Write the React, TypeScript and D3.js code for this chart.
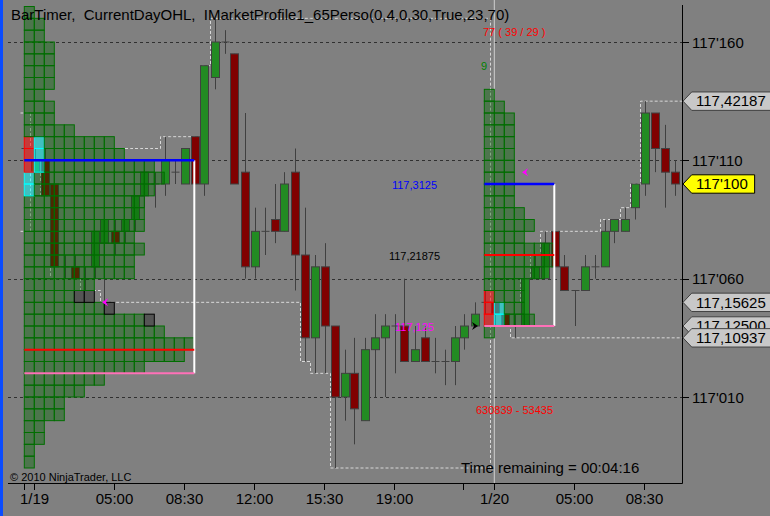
import React from 'react';
import * as d3 from 'd3';

// prices are counted in 1/64ths above 117.000 (117'160 = 32)
const priceTicks = [32, 22, 12, 2];
const priceTickLabels = ["117'160", "117'110", "117'060", "117'010"];

// bar slots (30 min each)
const timeTickSlots = [2, 3, 11, 18, 25, 32, 39, 46, 49, 57, 64];
const timeLabelSlots = [3, 11, 18, 25, 32, 39, 49, 57, 64];
const timeLabelText = ['1/19', '05:00', '08:30', '12:00', '15:30', '19:00', '1/20', '05:00', '08:30'];

// [open, high, low, close]
const prevDayBars: number[][] = [[23, 23, 23, 23]];
const day1Bars: number[][] = [
  [21, 23, 21, 22], [22, 23, 19, 19], [20, 20, 12, 13], [13, 14, 12, 13], [13, 14, 12, 12],
  [12, 13, 11, 12], [13, 16, 12, 16], [15, 17, 10, 17], [16, 17, 14, 15], [16, 17, 15, 17],
  [17, 19, 16, 19], [19, 21, 18, 21], [20, 21, 18, 20], [20, 24, 19, 22], [21, 22, 20, 21],
  [20, 23, 20, 23], [24, 24, 20, 20], [20, 30, 19, 30], [29, 34, 28, 32], [32, 33, 31, 32],
  [31, 31, 20, 20], [21, 26, 12, 13], [13, 18, 12, 16], [16, 18, 14, 16], [17, 20, 15, 16],
  [16, 21, 16, 20], [21, 23, 11, 14], [14, 18, 5, 7], [7, 14, 4, 13], [13, 15, 4, 8],
  [8, 8, -4, 2], [2, 6, 0, 4], [4, 7, -2, 1], [0, 7, 0, 6], [6, 9, 2, 7],
  [7, 9, 2, 8], [8, 9, 4, 8], [8, 12, 5, 5], [5, 8, 5, 6], [7, 8, 5, 5],
  [5, 7, 4, 5], [5, 6, 3, 5], [5, 8, 3, 7], [7, 9, 6, 8], [8, 10, 8, 9],
  [10, 11, 9, 10],
];
const day2Bars: number[][] = [
  [10, 10, 8, 9], [9, 9, 8, 8], [8, 9, 7, 8], [8, 12, 8, 12], [12, 14, 12, 13],
  [12, 16, 12, 15], [16, 16, 13, 13], [13, 14, 11, 11], [11, 11, 8, 11], [11, 14, 11, 13],
  [13, 14, 12, 13], [13, 17, 13, 16], [16, 17, 15, 17], [16, 18, 16, 17], [18, 20, 17, 20],
  [20, 27, 19, 26], [26, 26, 21, 23], [23, 25, 18, 21], [21, 22, 19, 20],
];
const sessionStarts = [2, 3, 49];
const sessionBars = [prevDayBars, day1Bars, day2Bars];
const sessionCarry: (number[] | null)[] = [[26, 16], null, null];

// market profiles: box counts per price row, from the lowest row up
const profile1Counts = [1, 1, 2, 2, 4, 4, 6, 8, 12, 16, 17, 14, 13, 9, 7, 7, 11, 11, 12, 11, 12, 12, 12, 13, 14, 13, 10, 9, 5, 3, 3, 2, 3, 3, 3, 3, 2, 2, 1];
const profile2Counts = [1, 5, 4, 4, 4, 6, 7, 7, 4, 5, 4, 3, 3, 3, 3, 3, 3, 3, 3, 2, 1];
const profileStart = [2, 48];
const profileLowRow = [-4, 7];
const profileVah = [22, 20];
const profilePoc = [6, 14];
const profileVal = [4, 8];
const profileVaEnd = [19, 55];
// [row, col, kind]
const profile1Marks: [number, number, string][] = [
  [21, 0, 'a'], [22, 0, 'a'], [23, 0, 'a'], [21, 1, 'b'], [22, 1, 'b'], [23, 1, 'b'], [19, 0, 'b'], [20, 0, 'b'],
  [10, 5, 'g'], [10, 6, 'g'], [9, 8, 'g'], [8, 12, 'g'],
];
const profile2Marks: [number, number, string][] = [
  [8, 0, 'a'], [9, 0, 'a'], [10, 0, 'a'], [8, 1, 'b'], [9, 1, 'b'],
];
const profileCounts = [profile1Counts, profile2Counts];
const profileMarks = [profile1Marks, profile2Marks];

const vaLabels = ['117,3125', '117,21875', '117,125'];

const tagPrices = [27, 10, 8, 7, 20];
const tagLabels = ['117,42187', '117,15625', '117,12500', '117,10937', "117'100"];

const FONT = "'Liberation Sans', Arial, sans-serif";

const x = d3.scaleLinear().domain([0, 67]).range([4.5, 674.5]);
const y = d3.scaleLinear().domain([32, 2]).range([42, 397]);

const PLOT_L = 8;
const PLOT_R = 682;
const PLOT_B = 483;

const markFill: Record<string, string> = {
  a: 'rgba(255,0,0,0.55)',
  b: 'rgba(0,255,255,0.5)',
  g: '#555555',
};
const markStroke: Record<string, string> = { a: '#ff0000', b: '#00ffff', g: '#000000' };

export default function App() {
  // running session high / low lines
  const hiPts: [number, number][] = [];
  const loPts: [number, number][] = [];
  sessionBars.forEach((bars, s) => {
    let hi = sessionCarry[s] ? sessionCarry[s]![0] : -Infinity;
    let lo = sessionCarry[s] ? sessionCarry[s]![1] : Infinity;
    bars.forEach((b, i) => {
      hi = Math.max(hi, b[1]);
      lo = Math.min(lo, b[2]);
      const px = x(sessionStarts[s] + i) - 4;
      hiPts.push([px, hi]);
      loPts.push([px, lo]);
    });
  });
  hiPts.push([PLOT_R, hiPts[hiPts.length - 1][1]]);
  loPts.push([PLOT_R, loPts[loPts.length - 1][1]]);
  const stepLine = d3.line<[number, number]>()
    .x(d => d[0])
    .y(d => y(d[1]))
    .curve(d3.curveStepAfter);

  const candles: { k: number; b: number[] }[] = [];
  sessionBars.forEach((bars, s) => bars.forEach((b, i) => candles.push({ k: sessionStarts[s] + i, b })));

  const tagWidth = (s: string) =>
    s.split('').reduce((w, c) => w + (c === ',' ? 4.2 : c === "'" ? 2.9 : 8.34), 0) + 10;

  return (
    <svg width={770} height={516} style={{ position: 'absolute', left: 0, top: 0, fontFamily: FONT }}>
      <rect width={770} height={516} fill="#808080" />
      <rect x={0} y={0} width={3} height={516} fill="#0a4cff" />

      {/* grid */}
      {priceTicks.map(t => (
        <line key={t} x1={PLOT_L} x2={PLOT_R} y1={Math.round(y(t)) + 0.5} y2={Math.round(y(t)) + 0.5}
          stroke="#303030" strokeDasharray="3,3" />
      ))}

      {/* day separator */}
      <line x1={x(49) - 0.2} x2={x(49) - 0.2} y1={0} y2={PLOT_B} stroke="#cfcfcf" />

      {/* current-day high / low */}
      <path d={stepLine(hiPts) || ''} fill="none" stroke="#d8d8d8" strokeDasharray="3,2" />
      <path d={stepLine(loPts) || ''} fill="none" stroke="#d8d8d8" strokeDasharray="3,2" />

      {/* candles */}
      {candles.map(({ k, b }) => {
        const [o, h, l, c] = b;
        const cx = Math.round(x(k)) + 0.5;
        const up = c >= o;
        return (
          <g key={k}>
            {h !== l && <line x1={cx} x2={cx} y1={y(h)} y2={y(l)} stroke="#404040" />}
            {o === c ? (
              <line x1={cx - 4} x2={cx + 4} y1={y(o)} y2={y(o)} stroke="#404040" />
            ) : (
              <rect x={cx - 4} width={8} y={y(Math.max(o, c))} height={Math.abs(y(o) - y(c))}
                fill={up ? '#228b22' : '#800000'} stroke="#404040" />
            )}
          </g>
        );
      })}

      {/* profiles */}
      {profileCounts.map((counts, p) => {
        const marks = new Map(profileMarks[p].map(m => [m[0] + ':' + m[1], m[2]]));
        const x0 = x(profileStart[p]) - 0.2;
        const vaEnd = x(profileVaEnd[p]) - 0.2;
        return (
          <g key={p}>
            {counts.map((n, i) => {
              const row = profileLowRow[p] + i;
              return d3.range(n).map(j => {
                const kind = marks.get(row + ':' + j);
                return (
                  <rect key={row + '-' + j} x={x0 + j * 10} y={y(row + 1)} width={10} height={y(row) - y(row + 1)}
                    fill={kind ? markFill[kind] : 'rgba(0,100,0,0.4)'}
                    stroke={kind ? markStroke[kind] : '#006e00'} />
                );
              });
            })}
            <line x1={vaEnd} x2={vaEnd} y1={y(profileVah[p])} y2={y(profileVal[p])} stroke="#ffffff" strokeWidth={2} />
            <line x1={x0} x2={vaEnd} y1={y(profileVah[p])} y2={y(profileVah[p])} stroke="#0000ff" strokeWidth={2.5} />
            <line x1={x0} x2={vaEnd} y1={y(profilePoc[p])} y2={y(profilePoc[p])} stroke="#ff0000" strokeWidth={2} />
            <line x1={x0} x2={vaEnd} y1={y(profileVal[p])} y2={y(profileVal[p])} stroke="#ff70b8" strokeWidth={2} />
          </g>
        );
      })}

      {/* arrows */}
      <path d={`M${x(10.05) + 3},${y(10) - 4}L${x(10.05) - 3},${y(10)}L${x(10.05) + 3},${y(10) + 4}L${x(10.05) + 1},${y(10)}Z`}
        fill="#ff00ff" />
      <path d={`M${x(52.05) + 3},${y(21) - 4}L${x(52.05) - 3},${y(21)}L${x(52.05) + 3},${y(21) + 4}L${x(52.05) + 1},${y(21)}Z`}
        fill="#ff00ff" />
      <path d={`M${x(47.05) - 3},${y(8) - 4}L${x(47.05) + 3},${y(8)}L${x(47.05) - 3},${y(8) + 4}L${x(47.05) - 1},${y(8)}Z`}
        fill="#000000" />

      {/* value-area labels of the current profile */}
      <g fontSize={11} textAnchor="middle">
        <text x={x(41)} y={y(profileVah[1]) + 5} fill="#0000ff">{vaLabels[0]}</text>
        <text x={x(41)} y={y(profilePoc[1]) + 5} fill="#000000">{vaLabels[1]}</text>
        <text x={x(41)} y={y(profileVal[1]) + 5} fill="#ff00ff">{vaLabels[2]}</text>
      </g>
      <g fontSize={11}>
        <text x={483} y={36} fill="#ff0000" style={{ whiteSpace: 'pre' }}>77 ( 39 / 29 )</text>
        <text x={481} y={70} fill="#008000">9</text>
        <text x={476} y={414} fill="#ff0000">630839 - 53435</text>
        <text x={10} y={481} fill="#000000">© 2010 NinjaTrader, LLC</text>
      </g>

      <text x={11} y={20} fontSize={15} fill="#000000" style={{ whiteSpace: 'pre' }}>
        {'BarTimer,  CurrentDayOHL,  IMarketProfile1_65Perso(0,4,0,30,True,23,70)'}
      </text>
      <text x={461} y={472.5} fontSize={15} fill="#000000">Time remaining = 00:04:16</text>

      {/* axes */}
      <line x1={PLOT_R + 0.5} x2={PLOT_R + 0.5} y1={5} y2={PLOT_B + 0.5} stroke="#000000" />
      <line x1={PLOT_L} x2={PLOT_R + 0.5} y1={PLOT_B + 0.5} y2={PLOT_B + 0.5} stroke="#000000" />
      {priceTicks.map((t, i) => (
        <g key={t}>
          <line x1={PLOT_R} x2={PLOT_R + 7} y1={Math.round(y(t)) + 0.5} y2={Math.round(y(t)) + 0.5} stroke="#000000" />
          <text x={692} y={y(t) + 5.5} fontSize={15} fill="#000000">{priceTickLabels[i]}</text>
        </g>
      ))}
      {timeTickSlots.map(k => (
        <line key={k} x1={Math.round(x(k)) - 0.5} x2={Math.round(x(k)) - 0.5} y1={PLOT_B} y2={PLOT_B + 7} stroke="#000000" />
      ))}
      {timeLabelSlots.map((k, i) => (
        <text key={k} x={x(k)} y={503.5} fontSize={15} textAnchor="middle" fill="#000000">{timeLabelText[i]}</text>
      ))}

      {/* price tags */}
      {tagPrices.map((t, i) => {
        const cy = y(t);
        const last = i === tagPrices.length - 1;
        const r = 691.7 + tagWidth(tagLabels[i]);
        return (
          <g key={i}>
            <path d={`M683,${cy}L691.7,${cy - 9.2}L${r},${cy - 9.2}L${r},${cy + 9.2}L691.7,${cy + 9.2}Z`}
              fill={last ? '#ffff00' : '#c8c8c8'} stroke={last ? '#000000' : '#404040'} />
            <text x={696} y={cy + 5.3} fontSize={15} fill="#000000">{tagLabels[i]}</text>
          </g>
        );
      })}
    </svg>
  );
}
